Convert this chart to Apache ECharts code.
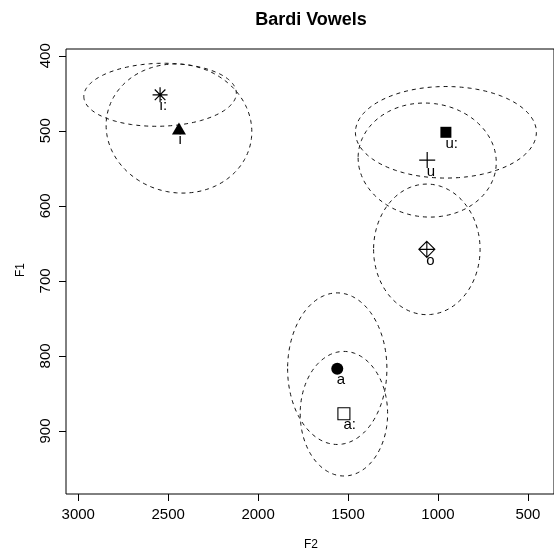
<!DOCTYPE html>
<html>
<head>
<meta charset="utf-8">
<script src="https://cdn.jsdelivr.net/npm/echarts@6/dist/echarts.min.js"></script>
<style>
  html, body { margin: 0; padding: 0; background: #fff; }
  #chart { width: 554px; height: 552px; }
</style>
</head>
<body>
<div id="chart"></div>
<script>
// Vowel means (Hz) and the spread of each vowel cloud
const vowels     = ['i:', 'i', 'u:', 'u', 'o', 'a', 'a:'];
const meanF2     = [2545, 2440, 956, 1060, 1062, 1560, 1523];
const meanF1     = [452, 497, 502, 539, 658, 817, 877];
const spreadF2   = [424, 405, 503, 384, 296, 276, 243];
const spreadF1   = [42, 86, 61, 76, 87, 101, 83];
const spreadCorr = [0.05, -0.05, 0, -0.04, 0, 0, 0];

// Axis ticks
const f2Ticks = [500, 1000, 1500, 2000, 2500, 3000];
const f1Ticks = [400, 500, 600, 700, 800, 900];

const FONT = '"Liberation Sans", Arial, Helvetica, sans-serif';

// Plotting symbol for each vowel
const markerStyles = {
  'i:': { symbol: 'path://M0,-1L0,1M-1,0L1,0M-0.7071,-0.7071L0.7071,0.7071M-0.7071,0.7071L0.7071,-0.7071',
          size: 15, fill: 'none', line: 1.2 },
  'i':  { symbol: 'triangle', size: [14, 12], fill: '#000', line: 0 },
  'u:': { symbol: 'rect', size: 11, fill: '#000', line: 0 },
  'u':  { symbol: 'path://M0,-1L0,1M-1,0L1,0', size: 16, fill: 'none', line: 1.2 },
  'o':  { symbol: 'path://M0,-1L1,0L0,1L-1,0ZM0,-1L0,1M-1,0L1,0', size: 16, fill: 'none', line: 1.1 },
  'a':  { symbol: 'circle', size: 12, fill: '#000', line: 0 },
  'a:': { symbol: 'rect', size: 12, fill: '#fff', line: 1.1 }
};

const chart = echarts.init(document.getElementById('chart'), null, { renderer: 'canvas' });

const pointSeries = vowels.map((v, k) => {
  const m = markerStyles[v];
  return {
    type: 'scatter',
    name: v,
    data: [[meanF2[k], meanF1[k]]],
    symbol: m.symbol,
    symbolSize: m.size,
    itemStyle: { color: m.fill, borderColor: '#000', borderWidth: m.line, opacity: 1 },
    label: {
      show: true,
      formatter: v,
      position: 'inside',
      align: 'left',
      verticalAlign: 'middle',
      offset: [-0.5, 11.5],
      color: '#000',
      fontSize: 15,
      fontFamily: FONT,
      textBorderWidth: 0
    },
    emphasis: { disabled: true },
    silent: true,
    z: 3
  };
});

// Dashed spread ellipse around each vowel mean
const ellipseSeries = {
  type: 'custom',
  data: vowels.map((v, k) => [meanF2[k], meanF1[k], spreadF2[k], spreadF1[k], spreadCorr[k]]),
  encode: { x: 0, y: 1 },
  silent: true,
  clip: false,
  z: 2,
  renderItem: function (params, api) {
    const cx = api.value(0), cy = api.value(1);
    const rx = api.value(2), ry = api.value(3);
    const d = Math.acos(api.value(4));
    const pts = [];
    for (let s = 0; s < 360; s += 2) {
      const t = s * Math.PI / 180;
      pts.push(api.coord([cx + rx * Math.cos(t), cy + ry * Math.cos(t - d)]));
    }
    return {
      type: 'polygon',
      shape: { points: pts },
      style: { fill: 'none', stroke: '#111', lineWidth: 1, lineDash: [4, 4] }
    };
  }
};

const plainNumber = (v) => String(v);

chart.setOption({
  animation: false,
  backgroundColor: '#fff',
  grid: {
    left: 66, top: 49, width: 491, height: 445,
    show: true, borderColor: '#000', borderWidth: 1, backgroundColor: 'transparent'
  },
  xAxis: {
    type: 'value',
    inverse: true,
    min: 355, max: 3068,
    splitLine: { show: false },
    axisLine: { show: false },
    axisTick: { show: true, length: 7, customValues: f2Ticks, lineStyle: { color: '#000', width: 1 } },
    axisLabel: { show: true, customValues: f2Ticks, formatter: plainNumber, margin: 13, color: '#000', fontSize: 15, fontFamily: FONT }
  },
  yAxis: {
    type: 'value',
    inverse: true,
    min: 391, max: 984,
    splitLine: { show: false },
    axisLine: { show: false },
    axisTick: { show: true, length: 7, customValues: f1Ticks, lineStyle: { color: '#000', width: 1 } },
    axisLabel: { show: true, customValues: f1Ticks, formatter: plainNumber, rotate: 90, margin: 13, color: '#000', fontSize: 15, fontFamily: FONT }
  },
  graphic: [
    { type: 'text', x: 311, y: 20, style: { text: 'Bardi Vowels', font: 'bold 18px ' + FONT, fill: '#000', align: 'center', verticalAlign: 'middle' } },
    { type: 'text', x: 311, y: 545, style: { text: 'F2', font: '12px ' + FONT, fill: '#000', align: 'center', verticalAlign: 'middle' } },
    { type: 'text', x: 21, y: 270, rotation: Math.PI / 2, style: { text: 'F1', font: '12px ' + FONT, fill: '#000', align: 'center', verticalAlign: 'middle' } }
  ],
  series: [ellipseSeries].concat(pointSeries)
});
</script>
</body>
</html>
